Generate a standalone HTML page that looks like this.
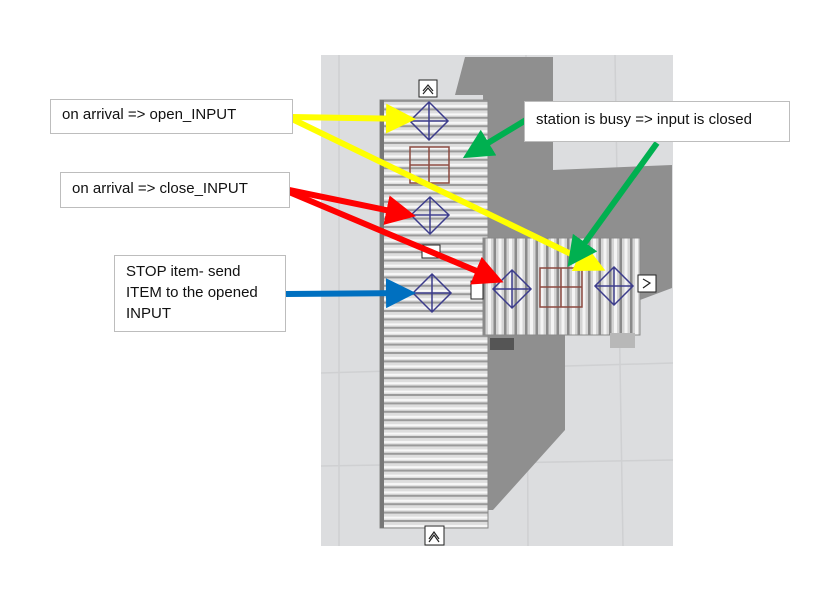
<!DOCTYPE html>
<html><head><meta charset="utf-8"><style>
html,body{margin:0;padding:0;background:#fff;}
.b{position:absolute;background:#fff;border:1px solid #bdbdbd;font-family:"Liberation Sans",sans-serif;font-size:15px;color:#111;box-sizing:border-box;}
</style></head><body>
<div style="position:relative;width:838px;height:593px;overflow:hidden;">
<svg width="838" height="593" style="position:absolute;left:0;top:0">
<defs>
<pattern id="vr" x="0" y="100" width="10" height="8.4" patternUnits="userSpaceOnUse">
<rect width="10" height="8.4" fill="#dedede"/><rect y="0" width="10" height="2" fill="#9a9a9a"/><rect y="5" width="10" height="2" fill="#f8f8f8"/>
</pattern>
<pattern id="hr" x="483" y="0" width="10.5" height="10" patternUnits="userSpaceOnUse">
<rect width="10.5" height="10" fill="#d4d4d4"/><rect width="2.5" height="10" fill="#8a8a8a"/><rect x="5" width="3" height="10" fill="#f4f4f4"/>
</pattern>
<marker id="ay" markerWidth="5" markerHeight="5" refX="4" refY="2.5" orient="auto" markerUnits="strokeWidth"><path d="M0,0 L5,2.5 L0,5 z" fill="#ffff00"/></marker>
<marker id="ar" markerWidth="5" markerHeight="5" refX="4" refY="2.5" orient="auto" markerUnits="strokeWidth"><path d="M0,0 L5,2.5 L0,5 z" fill="#ff0000"/></marker>
<marker id="ab" markerWidth="5" markerHeight="5" refX="4" refY="2.5" orient="auto" markerUnits="strokeWidth"><path d="M0,0 L5,2.5 L0,5 z" fill="#0070c0"/></marker>
<marker id="ag" markerWidth="5" markerHeight="5" refX="4" refY="2.5" orient="auto" markerUnits="strokeWidth"><path d="M0,0 L5,2.5 L0,5 z" fill="#00b050"/></marker>
</defs>
<rect x="321" y="55" width="352" height="491" fill="#dcdddf"/>
<g stroke="#cfd0d2" stroke-width="1.5">
<line x1="339" y1="55" x2="339" y2="546"/><line x1="526" y1="55" x2="528" y2="546"/><line x1="615" y1="55" x2="623" y2="546"/>
<line x1="321" y1="373" x2="673" y2="363"/><line x1="321" y1="466" x2="673" y2="460"/>
</g>
<polygon fill="#8f8f8f" points="455,95 465,57 553,57 553,170 672,165 672,288 640,300 640,335 565,335 565,430 493,510 486,510 486,338 483,95"/>
<rect x="380" y="100" width="108" height="428" fill="url(#vr)" stroke="#8a8a8a"/>
<rect x="380" y="100" width="4" height="428" fill="#777"/>
<rect x="483" y="238" width="157" height="97" fill="url(#hr)" stroke="#8a8a8a"/>
<rect x="610" y="333" width="25" height="15" fill="#b8b8b8"/>
<rect x="490" y="338" width="24" height="12" fill="#555"/>
<g fill="none" stroke="#3c3c8c" stroke-width="1.5">
<path d="M429,102 L448,121 L429,140 L410,121 Z M410,121 H448 M429,102 V140"/>
<path d="M430,197 L449,215 L430,234 L411,215 Z M411,215 H449 M430,197 V234"/>
<path d="M432,274 L451,293 L432,312 L413,293 Z M413,293 H451 M432,274 V312"/>
<path d="M512,270 L531,289 L512,308 L493,289 Z M493,289 H531 M512,270 V308"/>
<path d="M614,267 L633,286 L614,305 L595,286 Z M595,286 H633 M614,267 V305"/>
</g>
<g fill="none" stroke="#8b4a40" stroke-width="1.5">
<rect x="410" y="147" width="39" height="36"/><line x1="429" y1="147" x2="429" y2="183"/><line x1="410" y1="165" x2="449" y2="165"/>
<rect x="540" y="268" width="42" height="39"/><line x1="561" y1="268" x2="561" y2="307"/><line x1="540" y1="287" x2="582" y2="287"/>
</g>
<g fill="#fff" stroke="#222" stroke-width="1">
<rect x="419" y="80" width="18" height="17"/><rect x="425" y="526" width="19" height="19"/><rect x="638" y="275" width="18" height="17"/><rect x="471" y="281" width="12" height="18"/><rect x="422" y="245" width="18" height="13"/>
</g>
<g fill="none" stroke="#222" stroke-width="1.2">
<path d="M423,91 L428,85 L433,91 M423,94 L428,88 L433,94"/>
<path d="M429,539 L434,532 L439,539 M429,542 L434,535 L439,542"/>
<path d="M643,279 L650,283 L643,288"/>
</g>
<g stroke-width="6" fill="none">
<line x1="292" y1="117" x2="410" y2="119" stroke="#ffff00" marker-end="url(#ay)"/>
<line x1="292" y1="119" x2="600" y2="268" stroke="#ffff00" marker-end="url(#ay)"/>
<line x1="289" y1="190" x2="410" y2="215" stroke="#ff0000" marker-end="url(#ar)"/>
<line x1="289" y1="192" x2="498" y2="280" stroke="#ff0000" marker-end="url(#ar)"/>
<line x1="286" y1="294" x2="410" y2="293" stroke="#0070c0" marker-end="url(#ab)"/>
<line x1="526" y1="120" x2="468" y2="155" stroke="#00b050" marker-end="url(#ag)"/>
<line x1="657" y1="143" x2="571" y2="262" stroke="#00b050" marker-end="url(#ag)"/>
</g>
</svg>
<div class="b" style="left:50px;top:99px;width:243px;height:35px;padding:6px 0 0 11px;">on arrival =&gt; open_INPUT</div>
<div class="b" style="left:60px;top:172px;width:230px;height:36px;padding:7px 0 0 11px;">on arrival =&gt; close_INPUT</div>
<div class="b" style="left:114px;top:255px;width:172px;height:77px;padding:5px 0 0 11px;line-height:21px;">STOP item- send<br>ITEM to the opened<br>INPUT</div>
<div class="b" style="left:524px;top:101px;width:266px;height:41px;padding:9px 0 0 11px;">station is busy =&gt; input is closed</div>
</div>
</body></html>
